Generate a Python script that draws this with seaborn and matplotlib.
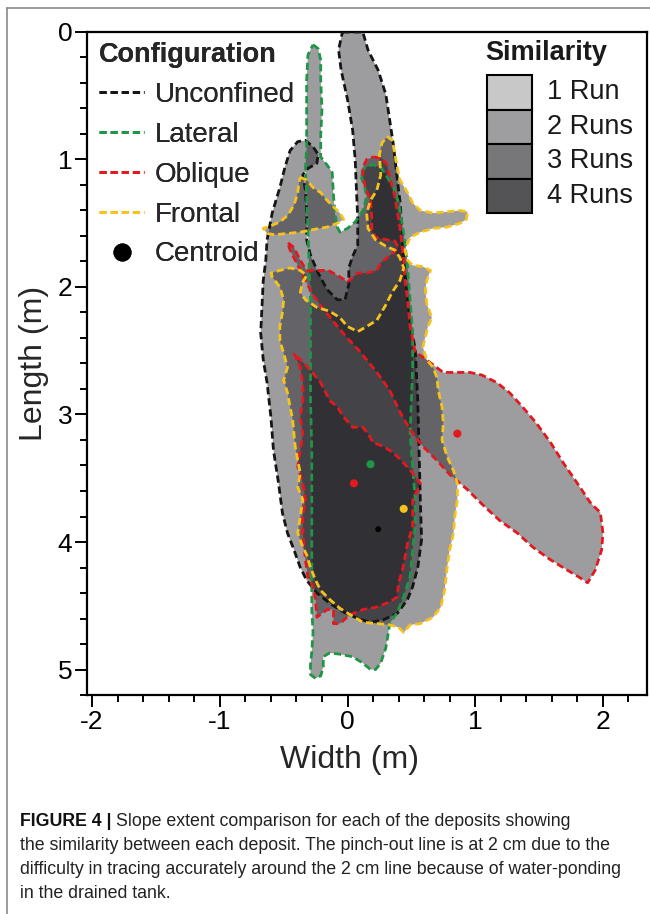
import numpy as np
import pandas as pd
import matplotlib
matplotlib.use("Agg")
import matplotlib.pyplot as plt
from matplotlib.lines import Line2D
from matplotlib.patches import Rectangle
from matplotlib.ticker import MultipleLocator
import seaborn as sns

sns.set_theme(style="white")
plt.rcParams["font.family"] = ["Liberation Sans", "DejaVu Sans"]
plt.rcParams["axes.unicode_minus"] = False

# ---- deposit outlines (width, length in metres) ----
UNCONFINED_W = [-0.04, 0.12, 0.16, 0.24, 0.30, 0.33, 0.36, 0.39, 0.41, 0.43, 0.44, 0.47, 0.49, 0.53,
                0.55, 0.56, 0.57, 0.58, 0.55, 0.51, 0.47, 0.39, 0.28, 0.18, 0.08, -0.03, -0.14, -0.24,
                -0.32, -0.37, -0.42, -0.47, -0.51, -0.54, -0.58, -0.60, -0.63, -0.66, -0.68, -0.67,
                -0.66, -0.64, -0.63, -0.59, -0.53, -0.49, -0.45, -0.39, -0.33, -0.27, -0.23, -0.24,
                -0.31, -0.35, -0.33, -0.32, -0.32, -0.29, -0.23, -0.16, -0.08, -0.02, 0.01, 0.01,
                0.04, 0.08, 0.08, 0.07, 0.06, 0.04, 0.00, -0.05, -0.07]
UNCONFINED_L = [0.00, 0.00, 0.14, 0.30, 0.49, 0.69, 0.89, 1.16, 1.32, 1.58, 1.79, 2.10, 2.26, 2.49,
                2.89, 3.28, 3.67, 3.98, 4.20, 4.35, 4.45, 4.56, 4.61, 4.63, 4.60, 4.55, 4.48, 4.40,
                4.30, 4.20, 4.06, 3.93, 3.77, 3.54, 3.28, 3.02, 2.75, 2.57, 2.36, 2.16,
                1.95, 1.79, 1.63, 1.42, 1.22, 1.06, 0.93, 0.86, 0.85, 0.90, 0.96, 1.03,
                1.07, 1.12, 1.24, 1.40, 1.63, 1.75, 1.89, 2.02, 2.10, 2.10, 1.98, 1.85,
                1.76, 1.67, 1.47, 1.24, 1.00, 0.77, 0.53, 0.30, 0.14]

LATERAL_W = [-0.27, -0.23, -0.21, -0.21, -0.20, -0.21, -0.21, -0.17, -0.12, -0.11, -0.10, -0.08,
             -0.06, 0.00, 0.06, 0.12, 0.15, 0.13, 0.10, 0.13, 0.19, 0.26, 0.30, 0.36, 0.40, 0.44,
             0.47, 0.49, 0.51, 0.51, 0.50, 0.49, 0.51, 0.53, 0.53, 0.51, 0.49, 0.44, 0.39, 0.33,
             0.32, 0.30, 0.26, 0.22, 0.18, 0.12, 0.04, -0.06, -0.14, -0.19, -0.19, -0.21, -0.25,
             -0.29, -0.29, -0.28, -0.27, -0.28, -0.28, -0.28, -0.28, -0.28, -0.29, -0.29, -0.29,
             -0.30, -0.31, -0.32, -0.33, -0.32, -0.32, -0.32, -0.31]
LATERAL_L = [0.10, 0.13, 0.22, 0.38, 0.61, 0.81, 0.98, 1.03, 1.10, 1.28, 1.41, 1.53,
             1.57, 1.54, 1.49, 1.40, 1.29, 1.20, 1.12, 1.07, 1.04, 1.06, 1.12, 1.22, 1.34, 1.58,
             1.84, 2.10, 2.36, 2.63, 2.89, 3.15, 3.41, 3.67, 3.88, 4.06, 4.27, 4.43, 4.55, 4.64,
             4.71, 4.83, 4.95, 5.00, 5.00, 4.95, 4.90, 4.88, 4.87, 4.90, 4.98, 5.05, 5.07,
             5.04, 4.96, 4.86, 4.71, 4.53, 4.32, 4.06, 3.67, 3.28, 2.89, 2.49, 2.10,
             1.87, 1.55, 1.29, 1.08, 0.90, 0.64, 0.38, 0.18]

OBLIQUE_BAND_W = [0.20, 0.27, 0.31, 0.33, 0.37, 0.41, 0.44, 0.45, 0.47, 0.49, 0.53, 0.59, 0.67, 0.75,
                  0.86, 0.96, 1.05, 1.17, 1.27, 1.37, 1.48, 1.59, 1.69, 1.80, 1.90, 1.98, 2.00, 1.99,
                  1.94, 1.88, 1.82, 1.72, 1.59, 1.45, 1.33, 1.19, 1.06, 0.94, 0.80, 0.70, 0.59, 0.49,
                  0.41, 0.33, 0.23, 0.10, -0.02, -0.11, -0.20, -0.27, -0.33, -0.39, -0.45, -0.47,
                  -0.42, -0.37, -0.32, -0.24, -0.15, -0.06, 0.00, 0.08, 0.15, 0.23, 0.26, 0.31, 0.36,
                  0.40, 0.37, 0.31, 0.22, 0.19, 0.19, 0.18, 0.14, 0.12, 0.12, 0.15]
OBLIQUE_BAND_L = [0.98, 0.99, 1.04, 1.14, 1.29, 1.53, 1.79, 1.95, 2.10, 2.31, 2.51, 2.55, 2.61, 2.67,
                  2.67, 2.67, 2.69, 2.75, 2.83, 2.94, 3.07, 3.22, 3.38, 3.54, 3.69, 3.77, 3.93, 4.06,
                  4.22, 4.32, 4.28, 4.22, 4.14, 4.04, 3.93, 3.83, 3.71, 3.59, 3.47, 3.36, 3.25, 3.12,
                  2.98, 2.81, 2.67, 2.51, 2.38, 2.27, 2.16, 2.06, 1.95, 1.83, 1.71, 1.65,
                  1.69, 1.79, 1.87, 1.87, 1.87, 1.92, 1.96, 1.89, 1.89, 1.87, 1.81, 1.77, 1.73,
                  1.69, 1.64, 1.63, 1.61, 1.55, 1.45, 1.32, 1.22, 1.12, 1.06, 1.00]

OBLIQUE_BODY_W = [-0.42, -0.37, -0.35, -0.35, -0.37, -0.35, -0.37, -0.39, -0.35, -0.33, -0.35, -0.35,
                  -0.33, -0.31, -0.27, -0.25, -0.24, -0.16, -0.11, -0.11, -0.06, 0.02, 0.12, 0.23,
                  0.33, 0.39, 0.40, 0.43, 0.45, 0.47, 0.51, 0.51, 0.51, 0.55, 0.57, 0.51, 0.44, 0.36,
                  0.28, 0.20, 0.16, 0.12, 0.04, -0.03, -0.08, -0.14, -0.21, -0.31]
OBLIQUE_BODY_L = [2.52, 2.63, 2.75, 2.89, 3.02, 3.15, 3.28, 3.41, 3.54, 3.67, 3.80, 3.93,
                  4.14, 4.27, 4.35, 4.45, 4.59, 4.53, 4.53, 4.64, 4.64, 4.57, 4.53, 4.51,
                  4.47, 4.43, 4.32, 4.22, 4.12, 4.01, 3.88, 3.75, 3.67, 3.59, 3.54, 3.46, 3.38, 3.30,
                  3.25, 3.22, 3.15, 3.10, 3.10, 3.02, 2.94, 2.89, 2.75, 2.63]

FRONTAL_HEAD_W = [-0.37, -0.32, -0.27, -0.21, -0.16, -0.11, -0.06, -0.03, -0.08, -0.16, -0.27,
                  -0.37, -0.47, -0.57, -0.63, -0.66, -0.60, -0.53, -0.47, -0.42, -0.39, -0.38]
FRONTAL_HEAD_L = [1.14, 1.16, 1.22, 1.26, 1.32, 1.37, 1.42, 1.47, 1.50, 1.53, 1.55,
                  1.57, 1.58, 1.59, 1.58, 1.54, 1.52, 1.49, 1.44, 1.36, 1.26, 1.18]

FRONTAL_BODY_W = [0.31, 0.35, 0.37, 0.39, 0.41, 0.47, 0.51, 0.57, 0.67, 0.78, 0.88, 0.94, 0.93, 0.88,
                  0.78, 0.67, 0.57, 0.49, 0.45, 0.47, 0.51, 0.59, 0.65, 0.62, 0.61, 0.62, 0.66, 0.63,
                  0.61, 0.59, 0.62, 0.67, 0.70, 0.71, 0.74, 0.75, 0.74, 0.78, 0.83, 0.86, 0.86, 0.84,
                  0.83, 0.80, 0.78, 0.76, 0.73, 0.67, 0.57, 0.49, 0.44, 0.40, 0.33, 0.23, 0.12, 0.02,
                  -0.06, -0.14, -0.21, -0.25, -0.29, -0.32, -0.35, -0.39, -0.37, -0.35, -0.39, -0.37,
                  -0.39, -0.41, -0.42, -0.43, -0.45, -0.47, -0.50, -0.47, -0.50, -0.53, -0.53, -0.51,
                  -0.50, -0.53, -0.59, -0.60, -0.53, -0.45, -0.37, -0.32, -0.35, -0.37, -0.33, -0.24,
                  -0.14, -0.06, 0.00, 0.08, 0.15, 0.23, 0.30, 0.35, 0.41, 0.44, 0.41, 0.37, 0.30,
                  0.22, 0.16, 0.15, 0.18, 0.23, 0.26, 0.25, 0.27]
FRONTAL_BODY_L = [0.82, 0.85, 0.95, 1.06, 1.16, 1.26, 1.34, 1.40, 1.42, 1.41, 1.40, 1.41, 1.47, 1.50,
                  1.53, 1.54, 1.57, 1.61, 1.71, 1.79, 1.83, 1.84, 1.87, 1.95, 2.02, 2.13, 2.24, 2.31,
                  2.39, 2.47, 2.57, 2.63, 2.71, 2.81, 2.94, 3.07, 3.20, 3.33, 3.44, 3.54, 3.67, 3.80,
                  3.93, 4.06, 4.20, 4.38, 4.51, 4.59, 4.64, 4.65, 4.71, 4.67, 4.65, 4.64, 4.63, 4.57,
                  4.52, 4.45, 4.38, 4.30, 4.20, 4.10, 4.04, 3.93, 3.80, 3.67, 3.57, 3.46,
                  3.36, 3.25, 3.15, 3.04, 2.94, 2.83, 2.73, 2.63, 2.52, 2.42, 2.31, 2.20,
                  2.10, 2.00, 1.92, 1.89, 1.87, 1.85, 1.87, 1.91, 1.96, 2.04, 2.10, 2.16,
                  2.19, 2.24, 2.31, 2.35, 2.31, 2.26, 2.14, 2.04, 1.95, 1.85, 1.77, 1.71, 1.68,
                  1.63, 1.54, 1.42, 1.32, 1.24, 1.12, 0.96, 0.87]

# ---- centroids ----
CENTROID_CONFIG = ["Lateral", "Oblique", "Oblique", "Frontal"]
CENTROID_W = [0.18, 0.05, 0.86, 0.44]
CENTROID_L = [3.39, 3.54, 3.15, 3.74]
UNCONFINED_CENTROID_W = [0.24]
UNCONFINED_CENTROID_L = [3.90]

CONFIGS = ["Unconfined", "Lateral", "Oblique", "Frontal"]
COLORS = {"Unconfined": "#151515", "Lateral": "#1e9645", "Oblique": "#e3191f", "Frontal": "#f7c21a"}
SIMILARITY = ["1 Run", "2 Runs", "3 Runs", "4 Runs"]
SIM_COLORS = ["#c8c8c8", "#9e9ea0", "#777779", "#545457"]

OUTLINES = {
    "Unconfined": [(UNCONFINED_W, UNCONFINED_L)],
    "Lateral": [(LATERAL_W, LATERAL_L)],
    "Oblique": [(OBLIQUE_BAND_W, OBLIQUE_BAND_L), (OBLIQUE_BODY_W, OBLIQUE_BODY_L)],
    "Frontal": [(FRONTAL_HEAD_W, FRONTAL_HEAD_L), (FRONTAL_BODY_W, FRONTAL_BODY_L)],
}

DASH = (0, (2.6, 1.4))
W, H = 650, 914


def fx(px):
    return px / W


def fy(py):
    return 1 - py / H


fig = plt.figure(figsize=(6.5, 9.14), dpi=100)
ax = fig.add_axes([fx(87), fy(695), 560 / W, 663 / H])
ax.set_facecolor("white")

# translucent fills: overlapping deposits darken
for cfg in CONFIGS:
    for w, l in OUTLINES[cfg]:
        ax.fill(w, l, color="#17171c", alpha=0.42, lw=0, zorder=1)

# dashed outlines
for cfg in CONFIGS:
    for w, l in OUTLINES[cfg]:
        df = pd.DataFrame({"w": list(w) + [w[0]], "l": list(l) + [l[0]]})
        sns.lineplot(data=df, x="w", y="l", sort=False, estimator=None, color=COLORS[cfg],
                     lw=2.0, linestyle=DASH, ax=ax, zorder=3)

cent = pd.DataFrame({"w": CENTROID_W, "l": CENTROID_L, "cfg": CENTROID_CONFIG})
sns.scatterplot(data=cent, x="w", y="l", hue="cfg", palette=COLORS, s=34, edgecolor="none",
                legend=False, ax=ax, zorder=4)
sns.scatterplot(x=UNCONFINED_CENTROID_W, y=UNCONFINED_CENTROID_L, color="black", s=18,
                edgecolor="none", legend=False, ax=ax, zorder=4)

ax.set_xlim(-2.04, 2.345)
ax.set_ylim(5.2, 0)
ax.xaxis.set_major_locator(MultipleLocator(1))
ax.xaxis.set_minor_locator(MultipleLocator(0.2))
ax.yaxis.set_major_locator(MultipleLocator(1))
ax.yaxis.set_minor_locator(MultipleLocator(0.2))
ax.tick_params(which="both", direction="out", bottom=True, left=True, top=False, right=False,
               colors="black", width=1.4, labelsize=19, pad=2)
ax.tick_params(which="major", length=8.5)
ax.tick_params(which="minor", length=5)
for sp in ax.spines.values():
    sp.set_color("black")
    sp.set_linewidth(1.6)
ax.set_xlabel("Width (m)", fontsize=23)
ax.set_ylabel("Length (m)", fontsize=23, labelpad=6)
ax.xaxis.set_label_coords((349 - 87) / 560, -0.075)
ax.grid(False)

# configuration legend
cfg_handles = [Line2D([], [], color=COLORS[c], lw=2.0, linestyle=DASH) for c in CONFIGS]
cfg_handles.append(Line2D([], [], marker="o", color="black", linestyle="none", markersize=12))
leg1 = ax.legend(cfg_handles, CONFIGS + ["Centroid"], loc="upper left",
                 bbox_to_anchor=(0.022, 0.985), frameon=False, title="Configuration",
                 title_fontproperties={"weight": "bold", "size": 19.5}, fontsize=20,
                 alignment="left", handlelength=1.6, handletextpad=0.4, labelspacing=0.5,
                 borderaxespad=0, borderpad=0)
ax.add_artist(leg1)

# similarity key: stacked swatches with labels
fig.text(fx(485), fy(53), "Similarity", fontsize=19.5, fontweight="bold", va="center",
         ha="left", color="#1a1a1a")
row_edges = [75, 109.5, 144, 178.5, 213]
for i, (lab, col) in enumerate(zip(SIMILARITY, SIM_COLORS)):
    top, bot = row_edges[i], row_edges[i + 1]
    fig.add_artist(Rectangle((fx(487), fy(bot)), 45 / W, (bot - top) / H, transform=fig.transFigure,
                             facecolor=col, edgecolor="black", lw=1.5))
    fig.text(fx(547), fy((top + bot) / 2), lab, fontsize=19.5, va="center", ha="left",
             color="#1a1a1a")

# outer frame of the figure panel
fig.add_artist(Line2D([fx(7), fx(7)], [0, fy(8)], transform=fig.transFigure,
                      color="#8a8a8a", lw=1.2))
fig.add_artist(Line2D([fx(7), 1], [fy(8), fy(8)], transform=fig.transFigure,
                      color="#8a8a8a", lw=1.2))

# caption
cap_font = ["Liberation Sans Narrow", "Liberation Sans", "DejaVu Sans"]
cap_size = 12.8
lines = [
    "Slope extent comparison for each of the deposits showing",
    "the similarity between each deposit. The pinch-out line is at 2 cm due to the",
    "difficulty in tracing accurately around the 2 cm line because of water-ponding",
    "in the drained tank.",
]
line_y = [822, 846, 870, 894]
bold = fig.text(fx(20), fy(line_y[0]), "FIGURE 4 | ", fontsize=cap_size, fontweight="bold",
                family=cap_font, va="center", color="#111111")
fig.canvas.draw()
bb = bold.get_window_extent()
fig.text(bb.x1 / W, fy(line_y[0]), lines[0], fontsize=cap_size, family=cap_font, va="center",
         color="#222222")
for t, yy in zip(lines[1:], line_y[1:]):
    fig.text(fx(20), fy(yy), t, fontsize=cap_size, family=cap_font, va="center", color="#222222")

fig.savefig("out.png", dpi=100)
